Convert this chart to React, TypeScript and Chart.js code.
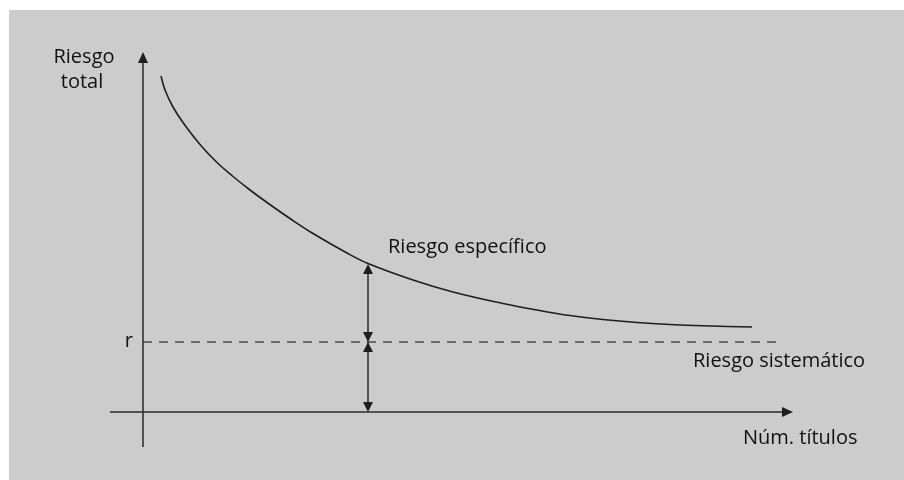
import React, { useEffect, useRef } from "react";
import { Chart, registerables } from "chart.js";

Chart.register(...registerables);

// Total risk curve (abstract units: number of titles vs risk)
const curveX = [1.8, 2.2, 3.0, 4.0, 5.7, 7.4, 9.0, 10.7, 12.4, 14.7, 17.0, 20.4, 22.5, 27.0, 31.0, 36.0, 39.4, 42.7, 46.0, 49.4, 52.7, 56.0, 60.9];
const curveY = [33.6, 32.2, 30.5, 28.95, 26.75, 24.95, 23.55, 22.2, 20.95, 19.35, 17.85, 15.9, 14.85, 13.2, 12.0, 10.85, 10.2, 9.65, 9.25, 8.95, 8.75, 8.62, 8.5];

// Systematic risk level r
const systematicRisk = 7.0;
const systematicRange = [0, 63.5];

// Marker position for the specific/systematic arrows
const markerX = 22.5;
const markerTop = 14.8;

// Axis extents
const xAxisRange = [-3.3, 65];
const yAxisRange = [-3.5, 36];

const labels = {
  yTitle: ["Riesgo", "total"],
  r: "r",
  specific: "Riesgo específico",
  systematic: "Riesgo sistemático",
  xTitle: "Núm. títulos",
};

const FONT = "20px 'Open Sans', sans-serif";
const INK = "#1e1e1e";

function arrowHead(ctx: CanvasRenderingContext2D, tipX: number, tipY: number, dir: "up" | "down" | "right", len = 10, half = 5) {
  ctx.beginPath();
  if (dir === "up") {
    ctx.moveTo(tipX, tipY);
    ctx.lineTo(tipX - half, tipY + len);
    ctx.lineTo(tipX + half, tipY + len);
  } else if (dir === "down") {
    ctx.moveTo(tipX, tipY);
    ctx.lineTo(tipX - half, tipY - len);
    ctx.lineTo(tipX + half, tipY - len);
  } else {
    ctx.moveTo(tipX, tipY);
    ctx.lineTo(tipX - len, tipY - half);
    ctx.lineTo(tipX - len, tipY + half);
  }
  ctx.closePath();
  ctx.fill();
}

const decorPlugin = {
  id: "decor",
  beforeDraw(chart: any) {
    const ctx = chart.ctx as CanvasRenderingContext2D;
    ctx.save();
    ctx.fillStyle = "#ffffff";
    ctx.fillRect(0, 0, chart.width, chart.height);
    ctx.fillStyle = "#cccccc";
    ctx.fillRect(9, 10, chart.width - 9, chart.height - 10);
    ctx.restore();
  },
  afterDatasetsDraw(chart: any) {
    const ctx = chart.ctx as CanvasRenderingContext2D;
    const xs = chart.scales.x;
    const ys = chart.scales.y;
    const px = (v: number) => xs.getPixelForValue(v);
    const py = (v: number) => ys.getPixelForValue(v);
    ctx.save();
    ctx.fillStyle = INK;
    // axis arrow heads
    arrowHead(ctx, px(0), py(yAxisRange[1]), "up", 11, 5);
    arrowHead(ctx, px(xAxisRange[1]), py(0), "right", 11, 5);
    // double arrows
    const mx = px(markerX);
    arrowHead(ctx, mx, py(markerTop), "up", 10, 5);
    arrowHead(ctx, mx, py(systematicRisk), "down", 10, 5);
    arrowHead(ctx, mx, py(systematicRisk), "up", 10, 5);
    arrowHead(ctx, mx, py(0), "down", 10, 5);

    // texts
    ctx.font = FONT;
    ctx.fillStyle = "#111111";
    ctx.textBaseline = "alphabetic";
    ctx.textAlign = "center";
    ctx.fillText(labels.yTitle[0], px(-5.9), py(34.9));
    ctx.fillText(labels.yTitle[1], px(-6.1), py(32.4));
    ctx.textAlign = "right";
    ctx.fillText(labels.r, px(-1.0), py(6.5));
    ctx.textAlign = "left";
    ctx.fillText(labels.specific, px(24.5), py(15.9));
    ctx.fillText(labels.systematic, px(55.0), py(4.5));
    ctx.fillText(labels.xTitle, px(60.0), py(-3.2));
    ctx.restore();
  },
};

export default function App() {
  const ref = useRef<HTMLCanvasElement | null>(null);
  useEffect(() => {
    if (!ref.current) return;
    const line = (pts: { x: number; y: number }[], color: string, width: number, dash: number[] = []) => ({
      data: pts,
      borderColor: color,
      borderWidth: width,
      borderDash: dash,
      pointRadius: 0,
      fill: false,
      clip: false as any,
      tension: 0,
      showLine: true,
    });
    const chart = new Chart(ref.current, {
      type: "scatter",
      data: {
        datasets: [
          line([{ x: xAxisRange[0], y: 0 }, { x: xAxisRange[1] - 0.8, y: 0 }], "#2a2a2a", 1.5),
          line([{ x: 0, y: yAxisRange[0] }, { x: 0, y: yAxisRange[1] - 0.8 }], "#2a2a2a", 1.5),
          line(
            [{ x: systematicRange[0], y: systematicRisk }, { x: systematicRange[1], y: systematicRisk }],
            "#4a4a4a",
            1.5,
            [9, 7]
          ),
          { ...line(curveX.map((x, i) => ({ x, y: curveY[i] })), INK, 1.6), tension: 0.4 },
          line([{ x: markerX, y: markerTop - 0.8 }, { x: markerX, y: 0.8 }], INK, 1.4),
        ] as any,
      },
      options: {
        animation: false,
        responsive: false,
        maintainAspectRatio: false,
        devicePixelRatio: 1,
        layout: { padding: { left: 143, right: 111, top: 52, bottom: 68 } },
        plugins: { legend: { display: false }, tooltip: { enabled: false } },
        scales: {
          x: { type: "linear", min: 0, max: 65, display: false },
          y: { type: "linear", min: 0, max: 36, display: false },
        },
      },
      plugins: [decorPlugin],
    });
    return () => chart.destroy();
  }, []);
  return (
    <div style={{ position: "fixed", left: 0, top: 0, width: 904, height: 480 }}>
      <canvas ref={ref} width={904} height={480} style={{ width: 904, height: 480 }} />
    </div>
  );
}
